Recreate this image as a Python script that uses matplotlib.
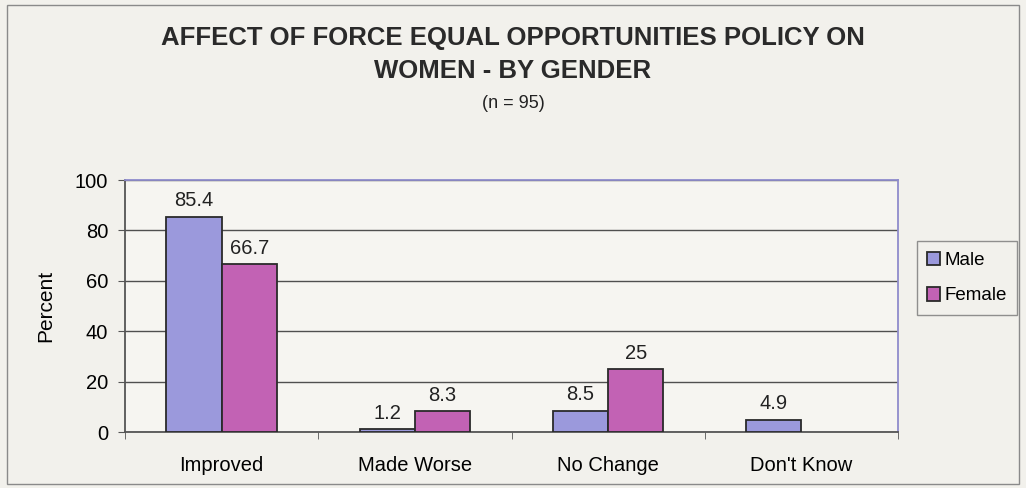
import matplotlib.pyplot as plt
from matplotlib.patches import Rectangle
import numpy as np

categories = ["Improved", "Made Worse", "No Change", "Don't Know"]
male = [85.4, 1.2, 8.5, 4.9]
female = [66.7, 8.3, 25, None]
series = ["Male", "Female"]

plt.rcParams['font.family'] = ['Liberation Sans', 'DejaVu Sans']

bg = "#f2f1ec"
fig = plt.figure(figsize=(10.26, 4.88), dpi=100, facecolor=bg)
# outer chart frame
fig.patches.append(Rectangle((0.007, 0.008), 0.986, 0.982, transform=fig.transFigure,
                             fill=False, edgecolor="#8a8a8a", linewidth=1.0))

ax = fig.add_axes([125 / 1026, 1 - 432 / 488, (898 - 125) / 1026, (432 - 180) / 488])
ax.set_facecolor("#f6f5f1")

x = np.arange(len(categories))
w = 1 / 3.5
edge = "#2a2a2a"
b1 = ax.bar(x - w / 2, male, w, color="#9b99dc", edgecolor=edge, linewidth=1.3,
            label=series[0], zorder=3)
fem_vals = [v if v is not None else 0 for v in female]
b2 = ax.bar(x + w / 2, fem_vals, w, color="#c262b4", edgecolor=edge, linewidth=1.3,
            label=series[1], zorder=3)
b2[3].set_visible(False)

for rect, v in zip(b1, male):
    ax.text(rect.get_x() + rect.get_width() / 2, v + 2.5, f"{v:g}",
            ha="center", va="bottom", fontsize=14.5, color="#222222")
for rect, v in zip(b2, female):
    if v is None:
        continue
    ax.text(rect.get_x() + rect.get_width() / 2, v + 2.5, f"{v:g}",
            ha="center", va="bottom", fontsize=14.5, color="#222222")

ax.set_xlim(-0.5, len(categories) - 0.5)
ax.set_ylim(0, 100)
ax.set_yticks(range(0, 101, 20))
ax.yaxis.grid(True, color="#505050", linewidth=1.0, zorder=0)
ax.set_axisbelow(True)

ax.set_xticks(x)
ax.set_xticklabels(categories, fontsize=14.5)
ax.tick_params(axis="x", length=0, pad=17)
ax.set_xticks(np.arange(-0.5, len(categories), 1), minor=True)
ax.tick_params(axis="x", which="minor", length=5, direction="out", color="#555555")
ax.tick_params(axis="y", labelsize=14.5, length=5, direction="out", color="#555555",
               pad=7)
ax.set_ylabel("Percent", fontsize=15, labelpad=14)

for side in ["top", "right"]:
    ax.spines[side].set_color("#8f8ccc")
    ax.spines[side].set_linewidth(1.3)
for side in ["left", "bottom"]:
    ax.spines[side].set_color("#555555")
    ax.spines[side].set_linewidth(1.3)

fig.text(0.5, 1 - 38 / 488, "AFFECT OF FORCE EQUAL OPPORTUNITIES POLICY ON",
         ha="center", va="center", fontsize=18.5, fontweight="bold", color="#2a2a2a")
fig.text(0.5, 1 - 71 / 488, "WOMEN - BY GENDER",
         ha="center", va="center", fontsize=18.5, fontweight="bold", color="#2a2a2a")
fig.text(0.5, 1 - 103 / 488, "(n = 95)", ha="center", va="center", fontsize=13,
         color="#222222")

leg = fig.legend(handles=[b1, b2], labels=series, loc="center left",
                 bbox_to_anchor=(917 / 1026, 1 - 278 / 488), fontsize=13.5,
                 frameon=True, fancybox=False, handlelength=0.7, handleheight=0.7,
                 handletextpad=0.2, borderpad=0.55, labelspacing=1.0,
                 borderaxespad=0)
leg.get_frame().set_edgecolor("#777777")
leg.get_frame().set_facecolor(bg)
leg.get_frame().set_linewidth(1.0)

fig.savefig("out.png", dpi=100, facecolor=bg)
